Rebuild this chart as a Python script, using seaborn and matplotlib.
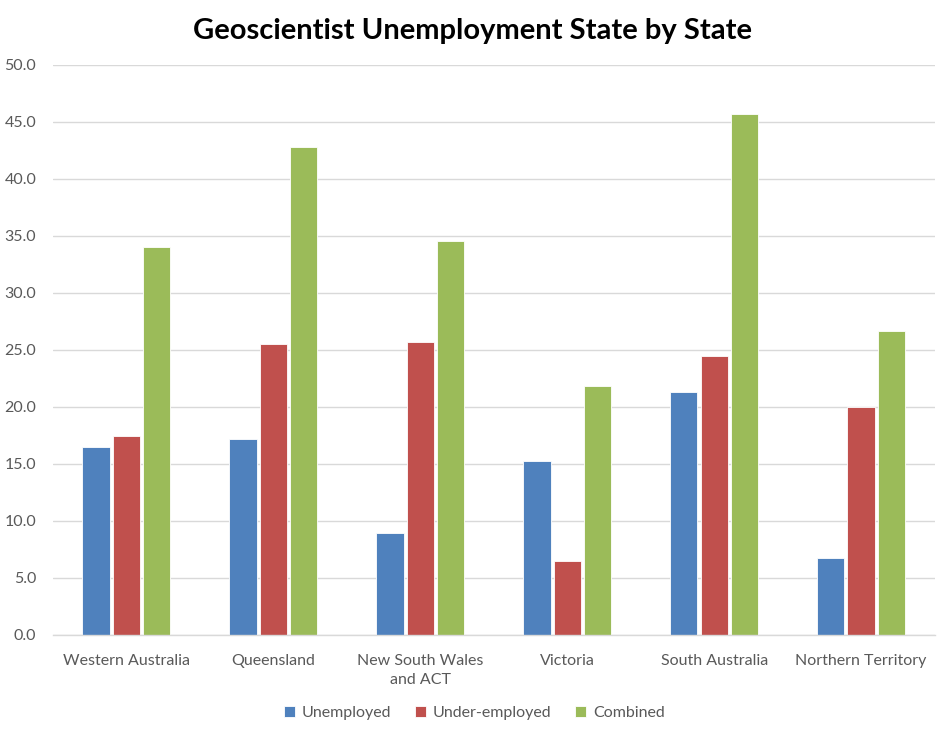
import matplotlib
matplotlib.use("Agg")
import matplotlib.pyplot as plt
import seaborn as sns
import pandas as pd

states = ["Western Australia", "Queensland", "New South Wales\nand ACT",
          "Victoria", "South Australia", "Northern Territory"]
unemployed = [16.5, 17.2, 8.9, 15.2, 21.3, 6.7]
under_employed = [17.4, 25.5, 25.7, 6.5, 24.4, 20.0]
combined = [34.0, 42.8, 34.5, 21.8, 45.7, 26.6]
series_names = ["Unemployed", "Under-employed", "Combined"]
colors = ["#4F81BD", "#C0504D", "#9BBB59"]
yticks = [0, 5, 10, 15, 20, 25, 30, 35, 40, 45, 50]

rows = []
for name, vals in zip(series_names, [unemployed, under_employed, combined]):
    for s, v in zip(states, vals):
        rows.append({"State": s, "Series": name, "Value": v})
df = pd.DataFrame(rows)

sns.set_theme(style="white")
plt.rcParams['font.family'] = ['Lato', 'DejaVu Sans']

fig = plt.figure(figsize=(9.45, 7.33), dpi=100)
ax = fig.add_axes([0.056, 0.134, 0.933, 0.778])

sns.barplot(data=df, x="State", y="Value", hue="Series", order=states,
            hue_order=series_names, palette=colors, width=0.62, gap=0.1,
            edgecolor="white", linewidth=0.6, saturation=1, ax=ax, legend=True)

ax.set_ylim(0, 50)
ax.set_yticks(yticks)
ax.set_yticklabels([f"{t:.1f}" for t in yticks])
ax.yaxis.grid(True, color="#D9D9D9", linewidth=1)
ax.set_axisbelow(True)
for sp in ["top", "right", "left"]:
    ax.spines[sp].set_visible(False)
ax.spines["bottom"].set_color("#D9D9D9")
ax.spines["bottom"].set_linewidth(1)
ax.tick_params(axis="both", length=0, labelsize=11.5, labelcolor="#595959")
ax.tick_params(axis="x", pad=14)
ax.tick_params(axis="y", pad=12)
for lbl in ax.get_xticklabels():
    lbl.set_linespacing(1.4)
ax.set_xlabel("")
ax.set_ylabel("")

fig.suptitle("Geoscientist Unemployment State by State", fontsize=21,
             fontweight="bold", y=0.975, color="black")

handles, labels = ax.get_legend_handles_labels()
ax.legend(handles, labels, loc="lower center", bbox_to_anchor=(0.478, -0.175),
          ncol=3, frameon=False, fontsize=11.5, handlelength=0.7, handleheight=0.7,
          handletextpad=0.4, columnspacing=1.5, labelcolor="#595959")

fig.savefig("out.png", dpi=100)
